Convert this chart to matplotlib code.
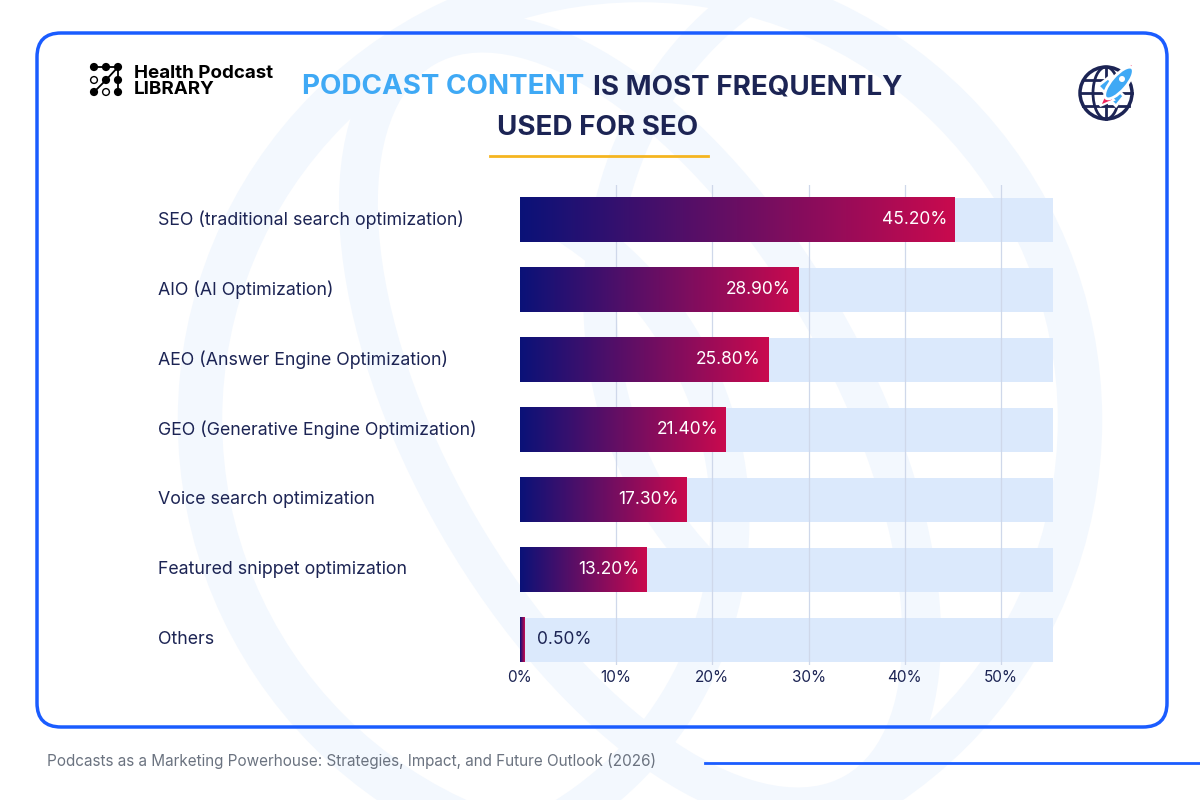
import matplotlib
matplotlib.use("Agg")
import matplotlib.pyplot as plt
import numpy as np
from matplotlib.colors import LinearSegmentedColormap
from matplotlib.patches import FancyBboxPatch, Circle, Ellipse, Polygon, Arc

plt.rcParams['font.family'] = ['Inter', 'DejaVu Sans']

categories = [
    "SEO (traditional search optimization)",
    "AIO (AI Optimization)",
    "AEO (Answer Engine Optimization)",
    "GEO (Generative Engine Optimization)",
    "Voice search optimization",
    "Featured snippet optimization",
    "Others",
]
values = [45.2, 28.9, 25.8, 21.4, 17.3, 13.2, 0.5]
value_labels = ["45.20%", "28.90%", "25.80%", "21.40%", "17.30%", "13.20%", "0.50%"]
xticks = [0, 10, 20, 30, 40, 50]
xtick_labels = ["0%", "10%", "20%", "30%", "40%", "50%"]
title_blue = "PODCAST CONTENT"
title_dark1 = "IS MOST FREQUENTLY"
title_dark2 = "USED FOR SEO"
logo_lines = ["Health Podcast", "LIBRARY"]
source = "Podcasts as a Marketing Powerhouse: Strategies, Impact, and Future Outlook (2026)"

NAVY = "#1c2454"
BLUE = "#1a5cff"
LIGHT = "#3fa9f5"
TRACK = "#dbe9fc"
GRID = "#cfd8ea"

W, H = 1200, 800
fig = plt.figure(figsize=(12, 8), dpi=100)
fig.patch.set_facecolor("white")

# background / decoration axes in pixel coordinates
bg = fig.add_axes([0, 0, 1, 1], zorder=0)
bg.set_xlim(0, W)
bg.set_ylim(H, 0)
bg.axis("off")

# faint watermark
wm = "#f3f8fe"
bg.add_patch(Circle((640, 420), 440, fill=False, ec=wm, lw=32))
bg.add_patch(Ellipse((640, 420), 420, 860, angle=-30, fill=False, ec=wm, lw=28))
bg.add_patch(Arc((380, 520), 700, 700, theta1=-60, theta2=80, ec=wm, lw=28))
bg.add_patch(Arc((900, 300), 600, 700, theta1=120, theta2=260, ec=wm, lw=24))

# frame
bg.add_patch(FancyBboxPatch((37, 33), 1130, 694, boxstyle="round,pad=0,rounding_size=24",
                            fill=False, ec=BLUE, lw=2.5))

# logo dots
dots = [(94, 67, True), (106, 67, True), (118, 67, True),
        (94, 80, False), (106, 80, True), (118, 80, True),
        (94, 92, True), (106, 92, False), (118, 92, True)]
bg.plot([94, 118], [67, 67], color="black", lw=1.3)
bg.plot([118, 118], [67, 92], color="black", lw=1.3)
bg.plot([106, 118], [80, 67], color="black", lw=1.3)
bg.plot([94, 106], [92, 80], color="black", lw=1.3)
for x, y, f in dots:
    bg.add_patch(Circle((x, y), 3.4, fc="black" if f else "white", ec="black", lw=1.0, zorder=3))
bg.text(134, 73, logo_lines[0], fontsize=13.5, fontweight="bold", color="black", va="center", ha="left")
bg.text(134, 89, logo_lines[1], fontsize=13.5, fontweight="bold", color="black", va="center", ha="left")

# globe icon
gx, gy, r = 1106, 93, 26
bg.add_patch(Circle((gx, gy), r, fill=False, ec=NAVY, lw=2.5))
bg.add_patch(Ellipse((gx, gy), r * 1.0, 2 * r, fill=False, ec=NAVY, lw=2))
bg.plot([gx, gx], [gy - r, gy + r], color=NAVY, lw=2)
for dy in (-13, 0, 13):
    hw = np.sqrt(r ** 2 - dy ** 2)
    bg.plot([gx - hw, gx + hw], [gy + dy, gy + dy], color=NAVY, lw=2)
# rocket
bg.add_patch(Polygon([(1098, 86), (1108, 78), (1114, 84), (1104, 92)], fc=LIGHT, ec="white", lw=2, zorder=4))
bg.add_patch(Polygon([(1116, 106), (1124, 96), (1118, 90), (1110, 100)], fc=LIGHT, ec="white", lw=2, zorder=4))
bg.add_patch(Polygon([(1100, 106), (1106, 92), (1114, 100)], fc="#f0245a", ec="white", lw=1.5, zorder=4))
bg.add_patch(Polygon([(1125, 67), (1133, 64), (1131, 73)], fc="#f0245a", ec="white", lw=1.2, zorder=4))
bg.add_patch(Ellipse((1119, 83), 40, 15, angle=-49, fc=LIGHT, ec="white", lw=2, zorder=5))
bg.add_patch(Circle((1122, 79), 3, fc="white", ec="none", zorder=6))

# title
bg.text(584, 87, title_blue, fontsize=20, fontweight="bold", color=LIGHT, ha="right", va="center")
bg.text(593, 87, title_dark1, fontsize=20, fontweight="bold", color=NAVY, ha="left", va="center")
bg.text(598, 128, title_dark2, fontsize=20, fontweight="bold", color=NAVY, ha="center", va="center")
bg.plot([490, 708], [156, 156], color="#f5b520", lw=2)

# footer
bg.text(47, 761, source, fontsize=11, color="#6b7380", ha="left", va="center")
bg.plot([705, 1200], [763, 763], color=BLUE, lw=2)

# chart axes
x0, x50 = 520, 1001
px_per = (x50 - x0) / 50.0
xmax = (1053 - x0) / px_per
row_top_c, row_px = 220, 70
ylo, yhi = -0.5, 6.35
top_px = row_top_c + ylo * row_px
bot_px = row_top_c + yhi * row_px
ax = fig.add_axes([x0 / W, 1 - bot_px / H, (1053 - x0) / W, (bot_px - top_px) / H], zorder=2)
ax.patch.set_alpha(0)

n = len(categories)
ypos = np.arange(n)
bh = 0.63
ax.barh(ypos, [xmax] * n, height=bh, color=TRACK, zorder=1)
for t in xticks[1:]:
    ax.axvline(t, color=GRID, lw=0.9, zorder=2)

cmap = LinearSegmentedColormap.from_list("g", ["#0a1278", "#c90a4e"])
grad = np.linspace(0, 1, 256).reshape(1, -1)
for i, v in enumerate(values):
    ax.imshow(grad, cmap=cmap, aspect="auto", extent=(0, v, i + bh / 2, i - bh / 2),
              zorder=3, interpolation="bilinear")
    if v > 5:
        ax.text(v - 0.8, i, value_labels[i], color="white", fontsize=12.5, ha="right", va="center", zorder=4)
    else:
        ax.text(v + 1.3, i, value_labels[i], color=NAVY, fontsize=12.5, ha="left", va="center", zorder=4)

ax.set_xlim(0, xmax)
ax.set_ylim(yhi, ylo)
ax.set_xticks(xticks)
ax.set_xticklabels(xtick_labels, fontsize=11, color=NAVY)
ax.set_yticks([])
ax.tick_params(axis="x", length=0, pad=4)
for s in ax.spines.values():
    s.set_visible(False)

for i, c in enumerate(categories):
    ax.text(-(x0 - 158) / px_per, i, c, fontsize=12.8, color=NAVY, ha="left", va="center", clip_on=False)

fig.savefig("out.png", dpi=100, facecolor="white")
